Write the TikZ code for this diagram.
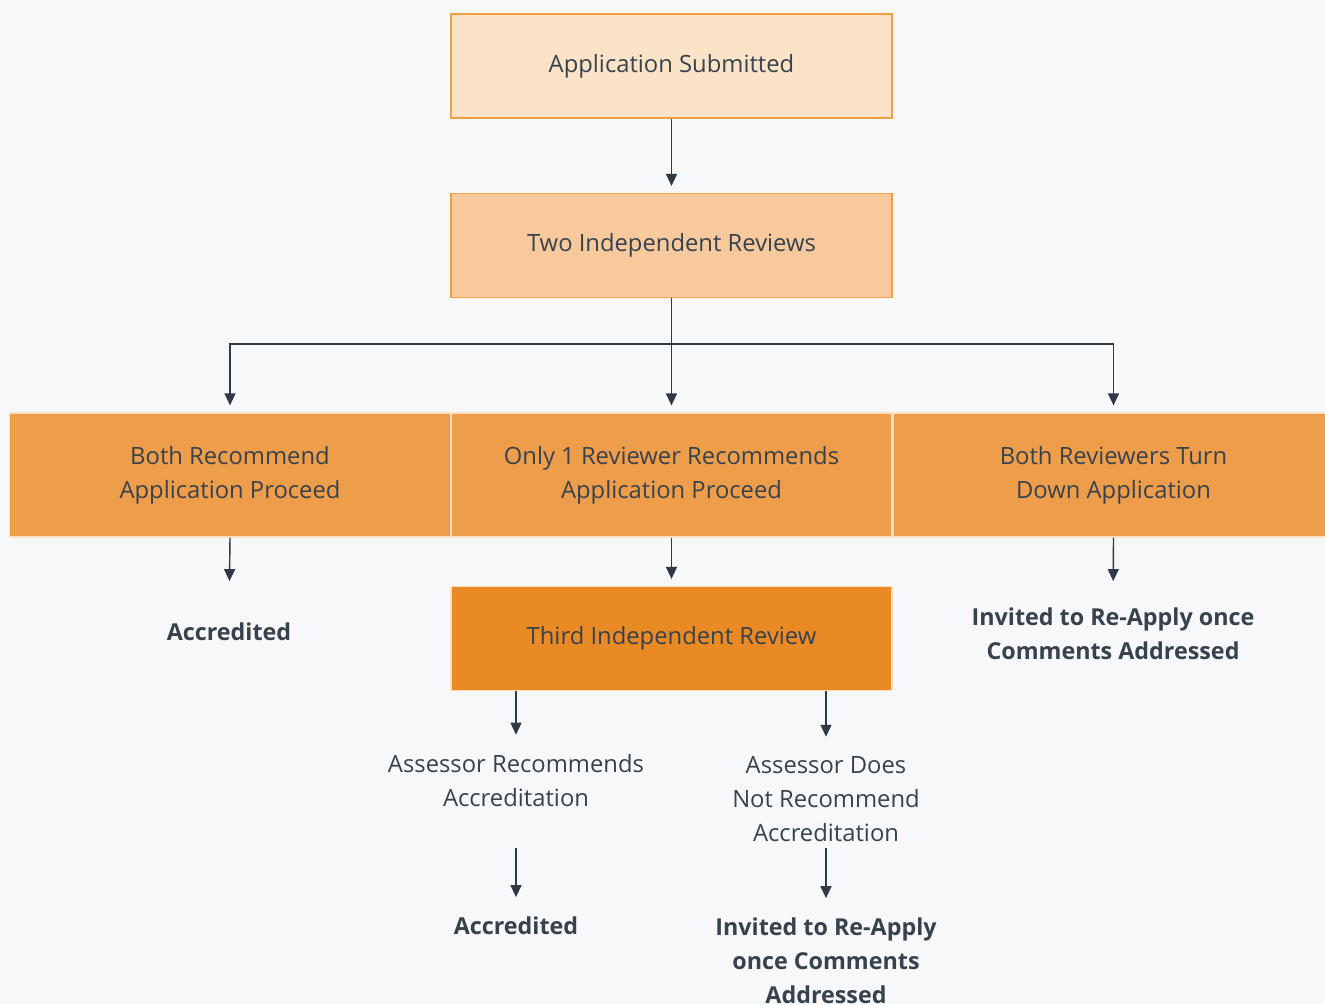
\documentclass[tikz,border=0pt]{standalone}
\usepackage{fontspec}
\setmainfont{Open Sans}
\usetikzlibrary{arrows.meta,positioning,calc}
\definecolor{pagebg}{HTML}{F7F8FA}
\definecolor{ink}{HTML}{37424D}
\definecolor{wire}{HTML}{2E3A45}
\definecolor{rim}{HTML}{F0A040}
\definecolor{paleedge}{HTML}{FBE0C2}
\definecolor{peachA}{HTML}{FBE3C8}
\definecolor{peachB}{HTML}{F7C99C}
\definecolor{midorange}{HTML}{EE9E4B}
\definecolor{deeporange}{HTML}{E98A24}

\begin{document}
\begin{tikzpicture}[x=1pt,y=-1pt,
every node/.style={text=ink,align=center,font=\fontsize{23.8}{34}\selectfont},
stepbox/.style={rectangle,draw=rim,line width=1.2pt,minimum width=441pt,minimum height=104pt,inner sep=0pt},
optbox/.style={stepbox,draw=paleedge,fill=midorange,minimum height=124pt},
label/.style={anchor=base,inner sep=0pt},
result/.style={label,font=\fontsize{23.3}{34}\selectfont\bfseries},
flow/.style={draw=wire,line width=1.4pt,-{Triangle[width=11pt,length=12pt]},shorten >=#1},
flow/.default=7pt]
\fill[pagebg] (0,0) rectangle (1325,1004);
\useasboundingbox (0,0) rectangle (1325,1004);
% top of the chart
\node[stepbox,fill=peachA] (sub) at (671.5,66) {Application Submitted};
\node[stepbox,fill=peachB] (two) at (671.5,245.5) {Two Independent Reviews};
% three outcomes
\node[optbox] (both) at (230,475) {Both Recommend\\Application Proceed};
\node[optbox] (one) at (671.5,475) {Only 1 Reviewer Recommends\\Application Proceed};
\node[optbox] (none) at (1113.5,475) {Both Reviewers Turn\\Down Application};
\node[stepbox,draw=paleedge,fill=deeporange] (third) at (671.5,638.5) {Third Independent Review};
\node[result] (acc1) at (229,640) {Accredited};
\node[result] (reap1) at (1113,659.5) {Invited to Re-Apply once\\Comments Addressed};
% third review
\node[label] (yes) at (516,806.5) {Assessor Recommends\\Accreditation};
\node[label] (no) at (826,841.5) {Assessor Does\\Not Recommend\\Accreditation};
\node[result] (acc2) at (516,934.5) {Accredited};
\node[result] (reap2) at (826,1003.5) {Invited to Re-Apply\\once Comments\\Addressed};

\draw[flow] (sub) -- (two);
\draw[flow] (two.south) -- ++(0,46) -| (both.north);
\draw[flow] (two.south) -- (one.north);
\draw[flow] (two.south) -- ++(0,46) -| (none.north);
\draw[flow=41pt] (both.south) -- (acc1.north);
\draw[flow] (one) -- (third);
\draw[flow=26.5pt] (none.south) -- (reap1.north);
\draw[flow=19.5pt] (third.south -| yes.north) -- (yes.north);
\draw[flow=19.5pt] (third.south -| no.north) -- (no.north);
\draw[flow=19.5pt,shorten <=6pt] (no.south -| yes.south) -- (acc2.north);
\draw[flow=19.5pt,shorten <=6pt] (no.south) -- (reap2.north);
\end{tikzpicture}
\end{document}
